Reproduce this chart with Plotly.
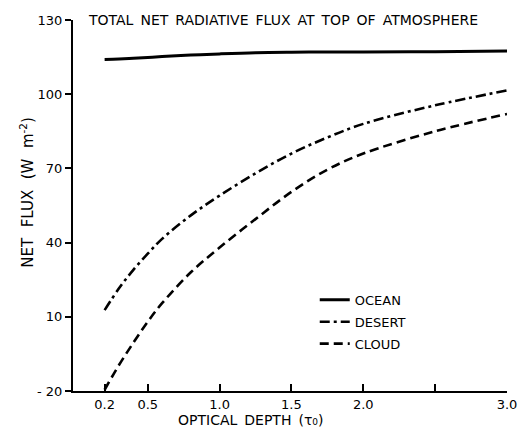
import plotly.graph_objects as go

# Optical depth grid
tau = [0.2, 0.3, 0.4, 0.5, 0.6, 0.8, 1.0, 1.25, 1.5, 1.75, 2.0, 2.5, 3.0]

ocean = [114.0, 114.2, 114.5, 114.8, 115.2, 115.8, 116.3, 116.8, 117.0, 117.1, 117.1, 117.2, 117.5]
desert = [12.7, 21.5, 29.0, 35.5, 41.5, 51.0, 59.0, 68.0, 76.0, 82.5, 88.0, 95.5, 101.5]
cloud = [-19.5, -9.5, -0.5, 8.0, 15.5, 28.0, 38.0, 49.5, 60.5, 69.5, 76.0, 85.0, 92.0]

x_ticks = [0.2, 0.5, 1.0, 1.5, 2.0, 3.0]
x_labels = ["0.2", "0.5", "1.0", "1.5", "2.0", "3.0"]
x_minor = [2.5]
y_ticks = [-20, 10, 40, 70, 100, 130]
y_labels = ["- 20", "10", "40", "70", "100", "130"]

FONT = "DejaVu Sans"
SP = "\u2002"
WSP = "\u2002\u2009"

fig = go.Figure()
fig.add_trace(go.Scatter(x=tau, y=ocean, mode="lines", name="OCEAN",
                         line=dict(color="black", width=3, shape="spline"),
                         legendgroup="a"))
fig.add_trace(go.Scatter(x=tau, y=desert, mode="lines", name="DESERT",
                         line=dict(color="black", width=2.6, dash="10px,4px,3px,4px", shape="spline"),
                         legendgroup="b"))
fig.add_trace(go.Scatter(x=tau, y=cloud, mode="lines", name="CLOUD",
                         line=dict(color="black", width=2.6, dash="9px,5px", shape="spline"),
                         legendgroup="c"))

fig.update_layout(
    width=526, height=427,
    margin=dict(l=65, r=27, t=12, b=44),
    paper_bgcolor="white", plot_bgcolor="white",
    font=dict(family=FONT, size=13, color="black"),
    showlegend=True,
    legend=dict(x=0.557, y=0.286, xanchor="left", yanchor="top",
                bgcolor="rgba(0,0,0,0)", font=dict(family=FONT, size=13),
                tracegroupgap=2),
    xaxis=dict(range=[-0.02, 3.0], tickvals=x_ticks, ticktext=x_labels,
               ticks="inside", ticklen=7, tickwidth=2, tickcolor="black",
               minor=dict(tickmode="array", tickvals=x_minor, ticks="inside",
                          ticklen=7, tickwidth=2, tickcolor="black", showgrid=False),
               showline=True, linewidth=2, linecolor="black",
               showgrid=False, zeroline=False, automargin=False,
               tickfont=dict(family=FONT, size=13)),
    yaxis=dict(range=[-20, 130], tickvals=y_ticks, ticktext=y_labels,
               ticks="outside", ticklen=6, tickwidth=2, tickcolor="black",
               showline=True, linewidth=2, linecolor="black",
               showgrid=False, zeroline=False, automargin=False,
               tickfont=dict(family=FONT, size=13)),
)

fig.add_annotation(text="OPTICAL" + SP + "DEPTH" + SP + "(τ\u2080)",
                   xref="paper", yref="paper", x=0.41, y=-0.078,
                   xanchor="center", yanchor="middle", showarrow=False,
                   font=dict(family=FONT, size=14, color="black"))

fig.add_annotation(text="NET" + WSP + "FLUX" + WSP + "(W" + WSP + "m<sup>-2</sup>)",
                   textangle=-90, xref="paper", yref="paper",
                   x=-0.108, y=0.535, xanchor="center", yanchor="middle",
                   showarrow=False, font=dict(family=FONT, size=15, color="black"))

fig.add_annotation(text=SP.join("TOTAL NET RADIATIVE FLUX AT TOP OF ATMOSPHERE".split(" ")),
                   xref="paper", yref="paper", x=0.029, y=1.0,
                   xanchor="left", yanchor="middle", showarrow=False,
                   font=dict(family=FONT, size=14, color="black"))

fig.write_html("out.html")
